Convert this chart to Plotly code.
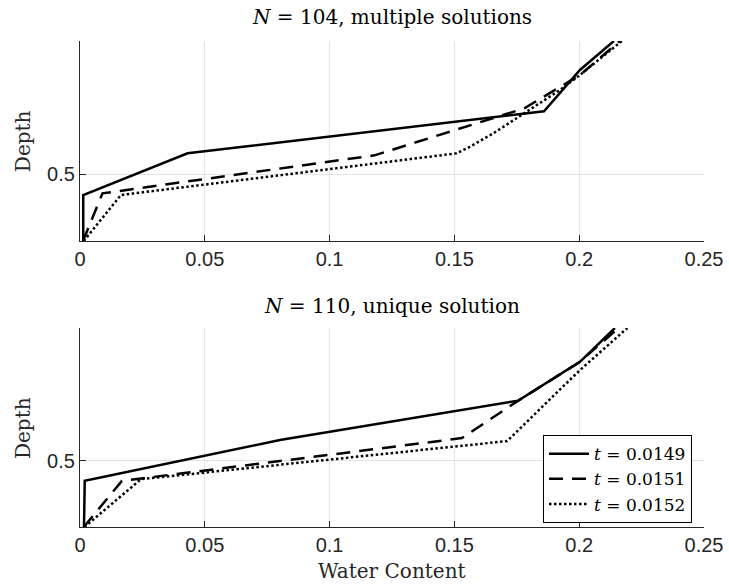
import plotly.graph_objects as go
from plotly.subplots import make_subplots

# Moisture profiles for three times, N = 104 (multiple solutions)
top_solid_x = [0.0013, 0.0013, 0.0431, 0.1859, 0.2003, 0.2139]
top_solid_d = [0.30, 0.438, 0.563, 0.689, 0.813, 0.90]
top_dashed_x = [0.0012, 0.0090, 0.118, 0.178, 0.2003, 0.2163]
top_dashed_d = [0.30, 0.443, 0.557, 0.698, 0.798, 0.90]
top_dotted_x = [0.0015, 0.0164, 0.1509, 0.1563, 0.1656, 0.1923, 0.2003, 0.2171]
top_dotted_d = [0.30, 0.438, 0.563, 0.583, 0.623, 0.753, 0.798, 0.90]

# Moisture profiles for three times, N = 110 (unique solution)
bot_solid_x = [0.0016, 0.0019, 0.0801, 0.1756, 0.2003, 0.2143]
bot_solid_d = [0.30, 0.439, 0.562, 0.681, 0.798, 0.90]
bot_dashed_x = [0.0015, 0.0168, 0.153, 0.1756, 0.2003, 0.2157]
bot_dashed_d = [0.30, 0.439, 0.568, 0.681, 0.798, 0.90]
bot_dotted_x = [0.0018, 0.0244, 0.1711, 0.2003, 0.2193]
bot_dotted_d = [0.30, 0.444, 0.559, 0.773, 0.90]

series_names = ["<i>t</i> = 0.0149", "<i>t</i> = 0.0151", "<i>t</i> = 0.0152"]
x_ticks = [0, 0.05, 0.1, 0.15, 0.2, 0.25]
x_tick_text = ["0", "0.05", "0.1", "0.15", "0.2", "0.25"]
y_ticks = [0.5]
y_tick_text = ["0.5"]

titles = ["<i>N</i> = 104, multiple solutions", "<i>N</i> = 110, unique solution"]

SERIF = "DejaVu Serif, serif"
SANS = "Liberation Sans, Arial, sans-serif"
AXIS_COLOR = "#262626"
GRID_COLOR = "#e3e3e3"

styles = [
    dict(color="black", width=2.5, dash="solid"),
    dict(color="black", width=2.5, dash="14px,9px"),
    dict(color="black", width=2.5, dash="2.5px,2.5px"),
]

fig = make_subplots(rows=2, cols=1, vertical_spacing=0.0, shared_xaxes=False)

top = [(top_solid_x, top_solid_d), (top_dashed_x, top_dashed_d), (top_dotted_x, top_dotted_d)]
bot = [(bot_solid_x, bot_solid_d), (bot_dashed_x, bot_dashed_d), (bot_dotted_x, bot_dotted_d)]

for i, (xs, ds) in enumerate(top):
    fig.add_trace(go.Scatter(x=xs, y=ds, mode="lines", line=styles[i],
                             name=series_names[i], showlegend=False), row=1, col=1)
for i, (xs, ds) in enumerate(bot):
    fig.add_trace(go.Scatter(x=xs, y=ds, mode="lines", line=styles[i],
                             name=series_names[i], showlegend=True), row=2, col=1)

axis_common = dict(
    showline=True, linecolor=AXIS_COLOR, linewidth=1.3, mirror=False,
    ticks="inside", ticklen=6, tickcolor=AXIS_COLOR, tickwidth=1,
    showgrid=True, gridcolor=GRID_COLOR, gridwidth=1, zeroline=False,
    tickfont=dict(family=SANS, size=20, color=AXIS_COLOR),
    automargin=False,
)

fig.update_xaxes(range=[0, 0.25], tickvals=x_ticks, ticktext=x_tick_text, **axis_common)
fig.update_yaxes(range=[0.3, 0.9], tickvals=y_ticks, ticktext=y_tick_text, **axis_common)

fig.update_layout(
    width=729, height=584,
    margin=dict(l=80, r=25, t=41, b=57, autoexpand=False),
    paper_bgcolor="white", plot_bgcolor="white",
    xaxis=dict(domain=[0, 1]),
    yaxis=dict(domain=[0.5885, 1.0]),
    xaxis2=dict(domain=[0, 1]),
    yaxis2=dict(domain=[0.0, 0.4095]),
    legend=dict(
        x=0.742, y=0.189, xanchor="left", yanchor="top",
        bgcolor="white", bordercolor="black", borderwidth=1,
        font=dict(family=SERIF, size=17, color="black"),
        tracegroupgap=0, itemwidth=40,
    ),
    showlegend=True,
)

annotations = [
    dict(text=titles[0], x=0.5, y=1.049, xref="paper", yref="paper",
         xanchor="center", yanchor="middle", showarrow=False,
         font=dict(family=SERIF, size=20, color="black")),
    dict(text=titles[1], x=0.5, y=0.4547, xref="paper", yref="paper",
         xanchor="center", yanchor="middle", showarrow=False,
         font=dict(family=SERIF, size=20, color="black")),
    dict(text="Depth", x=-0.0913, y=0.794, xref="paper", yref="paper",
         xanchor="center", yanchor="middle", showarrow=False, textangle=-90,
         font=dict(family=SERIF, size=20, color=AXIS_COLOR)),
    dict(text="Depth", x=-0.0913, y=0.2037, xref="paper", yref="paper",
         xanchor="center", yanchor="middle", showarrow=False, textangle=-90,
         font=dict(family=SERIF, size=20, color=AXIS_COLOR)),
    dict(text="Water Content", x=0.5, y=-0.0905, xref="paper", yref="paper",
         xanchor="center", yanchor="middle", showarrow=False,
         font=dict(family=SERIF, size=20, color=AXIS_COLOR)),
]
fig.update_layout(annotations=annotations)

fig.write_html("out.html")
